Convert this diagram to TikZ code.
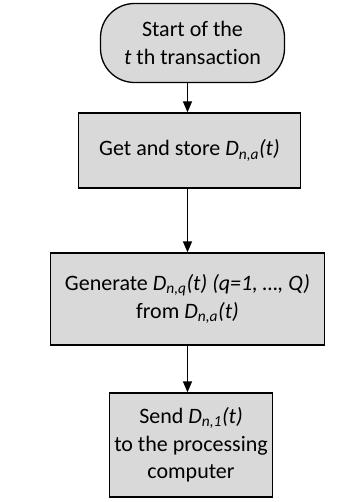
\documentclass[tikz,border=0pt]{standalone}
\usepackage{fontspec}
\setmainfont{Carlito}[Ligatures=NoCommon]
\usetikzlibrary{arrows.meta}

% italic D with a subscript, as in D_{n,a}(t)
\newcommand{\Dsig}[1]{\textit{D}\textsubscript{\textit{#1}}\textit{(t)}}

\tikzset{
  flowbox/.style={draw=black, fill=black!15, line width=1.3pt, align=center,
    inner sep=0pt, font=\fontsize{22}{27.5}\selectfont},
  startbox/.style={flowbox, rounded corners=34pt},
  flowarrow/.style={-{Triangle[length=11pt,width=9pt]}, line width=1.3pt}
}

\begin{document}
\begin{tikzpicture}[x=1pt,y=1pt]
\useasboundingbox (0,0) rectangle (355,-502);
\node[startbox, minimum width=184pt, minimum height=79pt] (start) at (192.5,-43) {Start of the\\\textit{t} th transaction};
\node[flowbox, minimum width=222pt, minimum height=75pt] (store) at (189.5,-150.5) {Get and store \Dsig{n,a}};
\node[flowbox, minimum width=274pt, minimum height=92pt] (generate) at (187.5,-299) {Generate \Dsig{n,q} \textit{(q=1, …, Q)}\\from \Dsig{n,a}};
\node[flowbox, minimum width=163pt, minimum height=104pt] (send) at (191,-445) {Send \Dsig{n,1}\\to the processing\\computer};
%\draw[step=10,gray,very thin] (0,0) grid (355,-502);
\coordinate (axis) at (187.5,0);
\draw[flowarrow] (start.south -| axis) -- (store.north -| axis);
\draw[flowarrow] (store.south -| axis) -- (generate.north -| axis);
\draw[flowarrow] (generate.south -| axis) -- (send.north -| axis);
\end{tikzpicture}
\end{document}
